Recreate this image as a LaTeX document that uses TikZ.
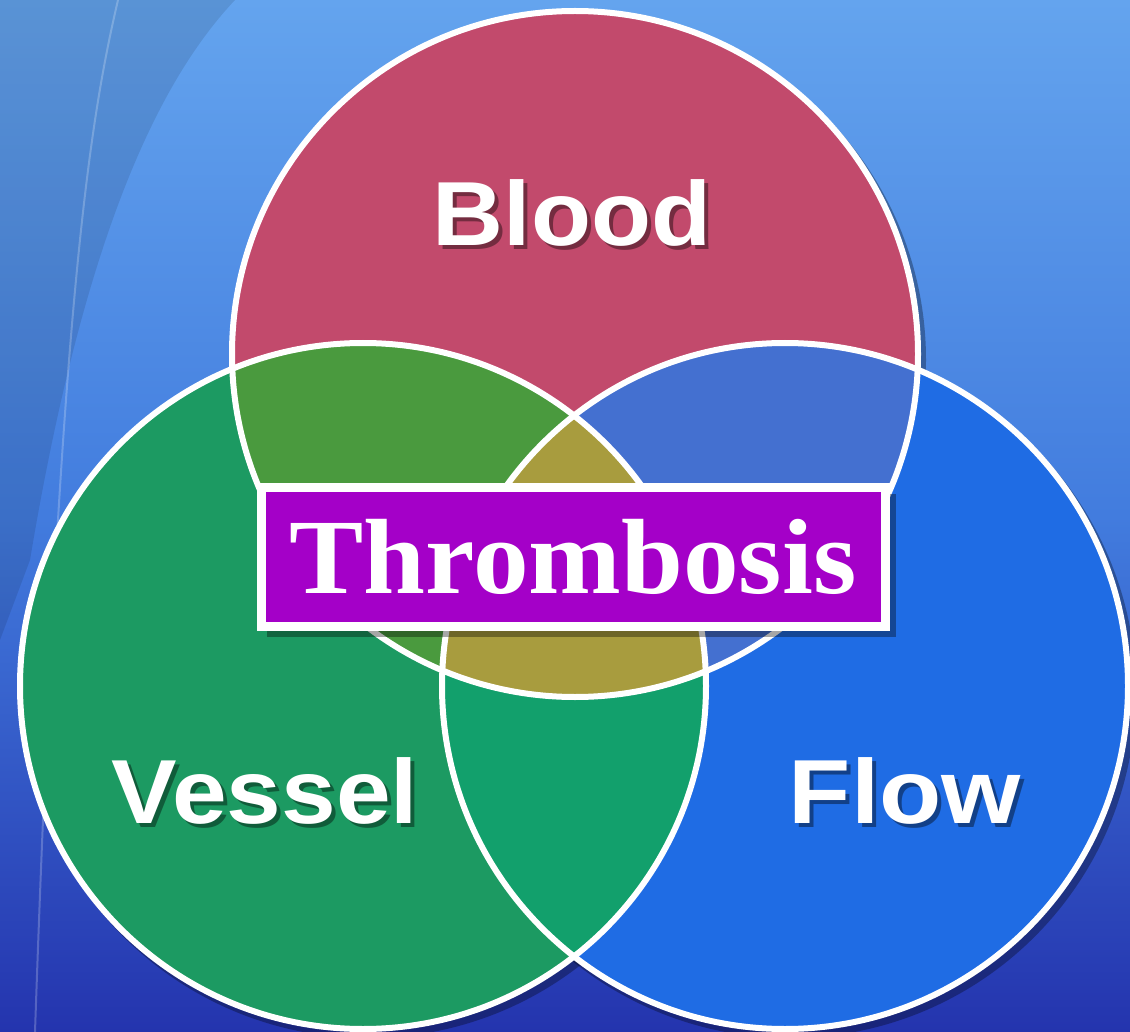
\documentclass[tikz,border=0pt]{standalone}
\usepackage{fontspec}
\usetikzlibrary{calc}
\setmainfont{Liberation Sans}
\newfontfamily\thrfont{Liberation Serif}
\definecolor{bgtop}{HTML}{64A4EE}
\definecolor{bgmid}{HTML}{427CDE}
\definecolor{bgbot}{HTML}{2434AE}
\definecolor{bloodc}{HTML}{C24A6C}
\definecolor{vesselc}{HTML}{1C9A62}
\definecolor{flowc}{HTML}{1F6CE4}
\definecolor{bvc}{HTML}{4A9A3E}
\definecolor{bfc}{HTML}{4470D0}
\definecolor{vfc}{HTML}{12A06C}
\definecolor{allc}{HTML}{A89C3E}
\definecolor{boxc}{HTML}{A400C8}
\tikzset{
  ring/.style={draw=white, line width=6pt},
  shadowring/.style={fill=black, opacity=0.3},
  lbl/.style={font=\fontsize{91}{91}\selectfont\bfseries, text=white, anchor=base, inner sep=0pt},
  lblsh/.style={lbl, text=black, opacity=0.4},
  thrbox/.style={fill=boxc, draw=white, line width=9pt, minimum width=624pt, minimum height=139pt, inner sep=0pt},
}
\begin{document}
\begin{tikzpicture}[x=1pt,y=-1pt]
% background
\shade[top color=bgtop, bottom color=bgbot, middle color=bgmid] (0,0) rectangle (1130,1032);
\useasboundingbox (0,0) rectangle (1130,1032);
\fill[black, opacity=0.10] (0,0) -- (235,0) .. controls (150,90) and (80,260) .. (30,560) -- (0,640) -- cycle;
\draw[white, opacity=0.22, line width=2pt] (118,0) .. controls (90,120) and (60,300) .. (35,1032);
% centres
\coordinate (cb) at (575,354);
\coordinate (cv) at (363,686);
\coordinate (cf) at (785,686);
% shadows
\fill[shadowring] ($(cb)+(5,6)$) circle[radius=346];
\fill[shadowring] ($(cv)+(5,6)$) circle[radius=346];
\fill[shadowring] ($(cf)+(5,6)$) circle[radius=346];
% fills
\fill[bloodc] (cb) circle[radius=343];
\fill[vesselc] (cv) circle[radius=343];
\fill[flowc] (cf) circle[radius=343];
\begin{scope}
  \clip (cb) circle[radius=343];
  \fill[bvc] (cv) circle[radius=343];
  \fill[bfc] (cf) circle[radius=343];
\end{scope}
\begin{scope}
  \clip (cv) circle[radius=343];
  \fill[vfc] (cf) circle[radius=343];
  \clip (cf) circle[radius=343];
  \fill[allc] (cb) circle[radius=343];
\end{scope}
% outlines
\draw[ring] (cb) circle[radius=343];
\draw[ring] (cv) circle[radius=343];
\draw[ring] (cf) circle[radius=343];
% labels
\node[lblsh] (bloodsh) at (576,250) {\scalebox{1.08}[1]{Blood}};
\node[lbl] (blood) at (572,246) {\scalebox{1.08}[1]{Blood}};
\node[lblsh] (vesselsh) at (269,827) {\scalebox{1.08}[1]{Vessel}};
\node[lbl] (vessel) at (265,823) {\scalebox{1.08}[1]{Vessel}};
\node[lblsh] (flowsh) at (909,827) {\scalebox{1.12}[1]{Flow}};
\node[lbl] (flow) at (905,823) {\scalebox{1.12}[1]{Flow}};
% thrombosis box
\fill[black, opacity=0.35] (267,494) rectangle (896,637);
\node[thrbox] (box) at (573.5,557) {};
\node[font=\fontsize{107}{107}\selectfont\thrfont\bfseries, text=white, anchor=base, inner sep=0pt] (thr) at (573,593) {\scalebox{1.04}[1]{Thrombosis}};
\end{tikzpicture}
\end{document}
